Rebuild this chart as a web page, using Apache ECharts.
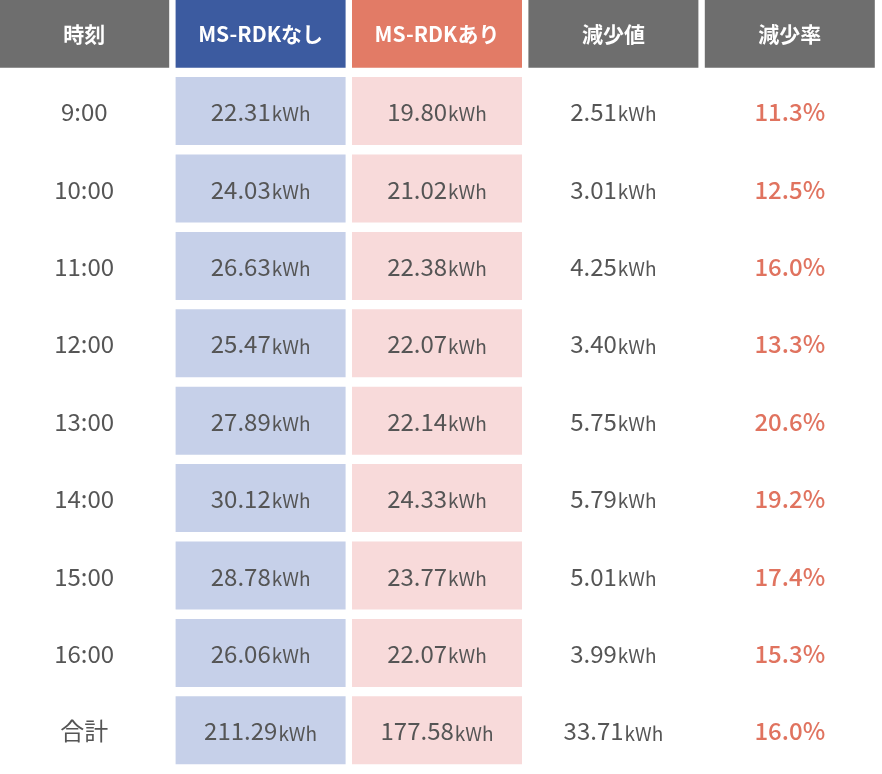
<!DOCTYPE html>
<html><head><meta charset="utf-8">
<script src="https://cdn.jsdelivr.net/npm/echarts@6/dist/echarts.min.js"></script>
<style>html,body{margin:0;padding:0;background:#fff}#c{width:882px;height:774px}</style>
</head><body><div id="c"></div>
<script>
const headers = ['時刻','MS-RDKなし','MS-RDKあり','減少値','減少率'];
const times = ['9:00','10:00','11:00','12:00','13:00','14:00','15:00','16:00','合計'];
const withoutRDK = ['22.31','24.03','26.63','25.47','27.89','30.12','28.78','26.06','211.29'];
const withRDK = ['19.80','21.02','22.38','22.07','22.14','24.33','23.77','22.07','177.58'];
const reduction = ['2.51','3.01','4.25','3.40','5.75','5.79','5.01','3.99','33.71'];
const rate = ['11.3%','12.5%','16.0%','13.3%','20.6%','19.2%','17.4%','15.3%','16.0%'];

const headerFill = ['#6e6e6e','#3c5ba0','#e27b66','#6e6e6e','#6e6e6e'];
const bodyFill = [null,'#c6d0e9','#f8dada',null,null];
const font = '"Noto Sans CJK JP","Noto Sans",sans-serif';

const data = [];
headers.forEach((h,c)=>data.push([c,0,h,'h']));
times.forEach((t,r)=>{
  data.push([0,r+1,t,'t']);
  data.push([1,r+1,withoutRDK[r],'k']);
  data.push([2,r+1,withRDK[r],'k']);
  data.push([3,r+1,reduction[r],'k']);
  data.push([4,r+1,rate[r],'p']);
});

const chart = echarts.init(document.getElementById('c'));
chart.setOption({
  animation:false,
  grid:{left:0,top:0,width:889,height:782},
  xAxis:{type:'category',data:[0,1,2,3,4],show:false},
  yAxis:{type:'category',data:[0,1,2,3,4,5,6,7,8,9],inverse:true,show:false},
  series:[{
    type:'custom',
    clip:false,
    data:data,
    renderItem:function(params,api){
      const c=api.value(0), r=api.value(1);
      const d=data[params.dataIndex];
      const p=api.coord([c,r]);
      const w=170,h=68;
      const children=[];
      let fill = r===0 ? headerFill[c] : bodyFill[c];
      if(fill) children.push({type:'rect',shape:{x:p[0]-w/2,y:p[1]-h/2,width:w,height:h},style:{fill:fill}});
      let style;
      if(d[3]==='h') style={text:d[2],fill:'#fff',font:'bold 21px '+font};
      else if(d[3]==='t') style={text:d[2],fill:'#555',font:'24px '+font};
      else if(d[3]==='p') style={text:d[2],fill:'#e0735f',font:'500 24px '+font};
      else style={text:'{n|'+d[2]+'}{u|kWh}',rich:{n:{fill:'#555',font:'24px '+font},u:{fill:'#555',font:'19px '+font,padding:[4,0,0,1]}}};
      style.x=p[0]; style.y=p[1]+(r===0?0:1); style.align='center'; style.verticalAlign='middle';
      children.push({type:'text',style:style});
      return {type:'group',x:-4,y:-5,children:children};
    }
  }]
});
</script></body></html>
